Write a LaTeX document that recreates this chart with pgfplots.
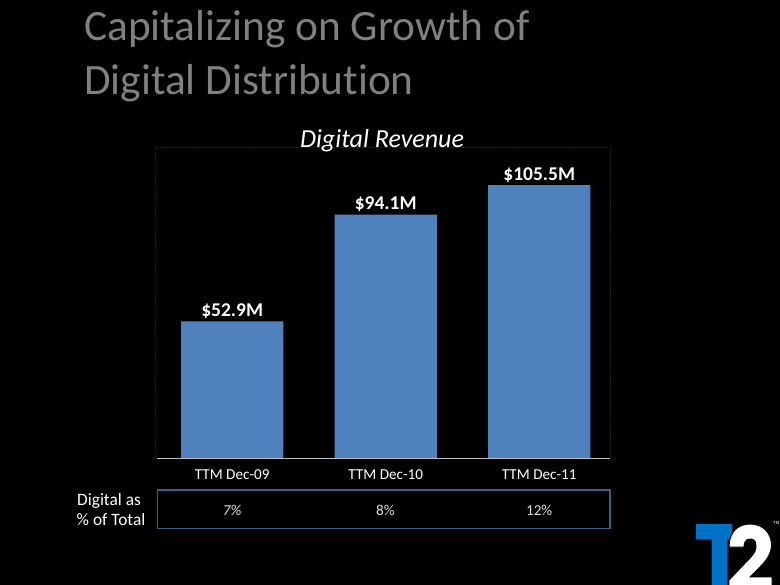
\documentclass[border=0pt]{standalone}
\usepackage{fontspec}
\setmainfont{Carlito}[Ligatures={NoCommon}]
\newfontfamily\logofont{Liberation Sans}
\usepackage{pgfplots}
\pgfplotsset{compat=1.18}

\definecolor{barblue}{RGB}{79,129,189}
\definecolor{boxblue}{RGB}{56,93,138}
\definecolor{titlegray}{RGB}{128,128,128}
\definecolor{framegray}{RGB}{34,34,34}
\definecolor{axisgray}{RGB}{190,190,190}
\definecolor{pctgray}{RGB}{220,220,220}
\definecolor{logoblue}{RGB}{0,114,198}

% one reference pixel in pt (720pt slide drawn at 780px)
\def\u{0.923077pt}

\begin{document}
\begin{tikzpicture}
\useasboundingbox (0pt,0pt) rectangle (720pt,-540pt);
% background and title, in pixel units from the top left corner
\begin{scope}[x=\u, y=-\u]
  \fill[black] (0,0) rectangle (780,585);
  \node[anchor=base west, inner sep=0, text=titlegray,
        font=\fontsize{40}{48}\selectfont] at (84,41) {Capitalizing on Growth of};
  \node[anchor=base west, inner sep=0, text=titlegray,
        font=\fontsize{40}{48}\selectfont] at (84,94.3) {Digital Distribution};
\end{scope}

\begin{axis}[
    scale only axis,
    width=420pt, height=286.7pt,
    at={(143.08pt,-423.05pt)}, anchor=south west,
    ybar, bar width=0.666,
    xmin=-0.503, xmax=2.461,
    ymin=0, ymax=120,
    ytick=\empty,
    xtick={0,1,2},
    xticklabels={TTM Dec-09, TTM Dec-10, TTM Dec-11},
    major tick length=0,
    xticklabel style={anchor=base, yshift=-19.3pt, text=white,
                      font=\fontsize{14}{16.8}\selectfont},
    axis line style={draw=none},
    clip=false,
    point meta=explicit symbolic,
    nodes near coords,
    every node near coord/.append style={anchor=base, yshift=4.8pt,
        text=white, font=\fontsize{18}{21.6}\selectfont\bfseries},
]
\draw[densely dotted, framegray] (rel axis cs:0,0) rectangle (rel axis cs:1,1);
\addplot[draw=none, fill=barblue] coordinates {
  (0,52.9)  [\$52.9M]
  (1,94.1)  [\$94.1M]
  (2,105.5) [\$105.5M]
};
\draw[axisgray, line width=1.3pt] (rel axis cs:0.005,0) -- (rel axis cs:1,0);
\end{axis}

\begin{scope}[x=\u, y=-\u]
  \node[anchor=base, inner sep=0, text=white,
        font=\fontsize{24}{28.8}\selectfont\itshape] at (382,147.7) {Digital Revenue};
  % percentage row
  \draw[boxblue, line width=1.4pt] (157.3,490) rectangle (610,528.3);
  \node[anchor=base, inner sep=0, text=pctgray,
        font=\fontsize{14}{16.8}\selectfont\itshape] at (232.2,515) {7\%};
  \node[anchor=base, inner sep=0, text=pctgray,
        font=\fontsize{14}{16.8}\selectfont] at (385.5,515) {8\%};
  \node[anchor=base, inner sep=0, text=pctgray,
        font=\fontsize{14}{16.8}\selectfont] at (539.2,515) {12\%};
  \node[anchor=base west, inner sep=0, text=white,
        font=\fontsize{16}{19.2}\selectfont] at (77,505) {Digital as};
  \node[anchor=base west, inner sep=0, text=white,
        font=\fontsize{16}{19.2}\selectfont] at (76.5,525.5) {\% of Total};
  % T2 logo
  \fill[logoblue] (696,524) -- (732,524) -- (732,539.3) -- (727.3,539.3)
        -- (727.3,592) -- (711.7,592) -- (711.7,539.3) -- (696,539.3) -- cycle;
  \filldraw[fill=white, draw=black, line width=0.9pt]
        (729,547) .. controls (729,532) and (738,524) .. (750,524)
        .. controls (763,524) and (771.5,533) .. (771.5,545)
        .. controls (771.5,555) and (765,562) .. (757,570)
        -- (750,577) -- (772,577) -- (772,592) -- (729,592) -- (729,580)
        -- (751,557) .. controls (754.5,553) and (756,550) .. (756,546)
        .. controls (756,541) and (754,539) .. (750,539)
        .. controls (746,539) and (744,542) .. (744,547) -- cycle;
  \node[anchor=base west, inner sep=0, text=white,
        font=\logofont\fontsize{4}{5}\selectfont] at (773,524) {TM};
\end{scope}
\end{tikzpicture}
\end{document}
